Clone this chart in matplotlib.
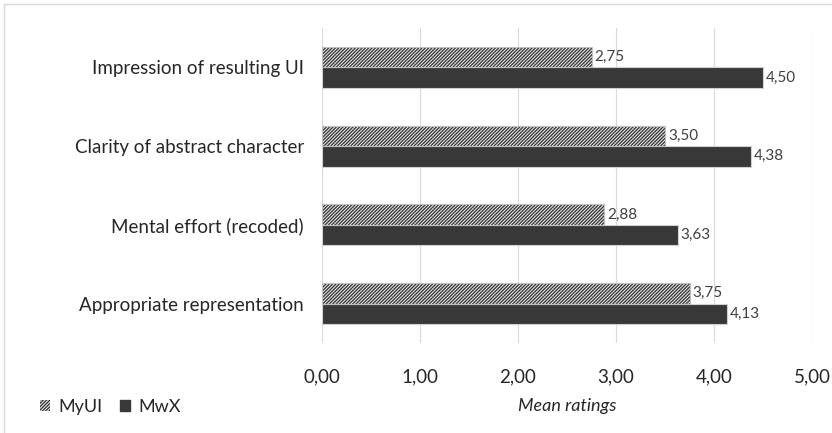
import matplotlib
matplotlib.use("Agg")
import matplotlib.pyplot as plt
from matplotlib.lines import Line2D
from matplotlib.patches import Patch
import numpy as np

plt.rcParams['font.family'] = ['Lato', 'DejaVu Sans']
plt.rcParams['hatch.linewidth'] = 1.0

categories = [
    "Appropriate representation",
    "Mental effort (recoded)",
    "Clarity of abstract character",
    "Impression of resulting UI",
]
myui = [3.75, 2.88, 3.50, 2.75]
mwx = [4.13, 3.63, 4.38, 4.50]
xticks = [0, 1, 2, 3, 4, 5]

TEXT = "#262626"
DARK = "#383838"
GRID = "#d9d9d9"
HATCH = "//////////"

fig = plt.figure(figsize=(8.32, 4.33), dpi=100)
ax = fig.add_axes([322 / 832, 1 - 343 / 433, 490 / 832, 315 / 433])

y = np.arange(len(categories))
h = 0.26

# hatched series: fill + hatch, then a light outline on top
ax.barh(y + h / 2, myui, height=h, color="#f2f2f2", edgecolor="#3a3a3a",
        hatch=HATCH, linewidth=0, zorder=3)
ax.barh(y + h / 2, myui, height=h, fill=False, edgecolor="#bfbfbf",
        linewidth=0.8, zorder=4)
ax.barh(y - h / 2, mwx, height=h, color=DARK, edgecolor="#d0d0d0",
        linewidth=0.8, zorder=3)

def fmt(v):
    return f"{v:.2f}".replace(".", ",")

for yi, v in zip(y, myui):
    ax.text(v + 0.03, yi + h / 2, fmt(v), va="center", ha="left",
            fontsize=11, color="#404040", zorder=5)
for yi, v in zip(y, mwx):
    ax.text(v + 0.03, yi - h / 2, fmt(v), va="center", ha="left",
            fontsize=11, color="#404040", zorder=5)

ax.set_xlim(0, 5)
ax.set_ylim(-0.5, len(categories) - 0.5)
ax.set_xticks(xticks)
ax.set_xticklabels([fmt(t) for t in xticks], fontsize=13.5, color=TEXT)
ax.set_yticks(y)
ax.set_yticklabels(categories, fontsize=13.5, color=TEXT)
ax.tick_params(axis="both", length=0)
ax.tick_params(axis="x", pad=18)
ax.tick_params(axis="y", pad=13)
for s in ax.spines.values():
    s.set_visible(False)
ax.grid(axis="x", color=GRID, linewidth=0.8, zorder=0)
ax.set_axisbelow(True)
ax.set_xlabel("Mean ratings", fontsize=13, style="italic", color=TEXT, labelpad=9)

handles = [
    Patch(facecolor="#f2f2f2", edgecolor="#3a3a3a", hatch=HATCH, linewidth=0),
    Patch(facecolor=DARK, edgecolor=DARK),
]
fig.legend(handles, ["MyUI", "MwX"], loc="center left",
           bbox_to_anchor=(40 / 832, 1 - 407 / 433), ncol=2, frameon=False,
           fontsize=13, handlelength=0.55, handleheight=0.55, borderpad=0,
           borderaxespad=0, handletextpad=0.45, columnspacing=1.0,
           labelcolor=TEXT)

# light frame lines along the top and left edges
fig.add_artist(Line2D([4 / 832, 1], [1 - 4 / 433, 1 - 4 / 433],
                      transform=fig.transFigure, color="#d9d9d9", linewidth=1))
fig.add_artist(Line2D([4 / 832, 4 / 832], [0, 1 - 4 / 433],
                      transform=fig.transFigure, color="#d9d9d9", linewidth=1))

fig.savefig("out.png", dpi=100)
